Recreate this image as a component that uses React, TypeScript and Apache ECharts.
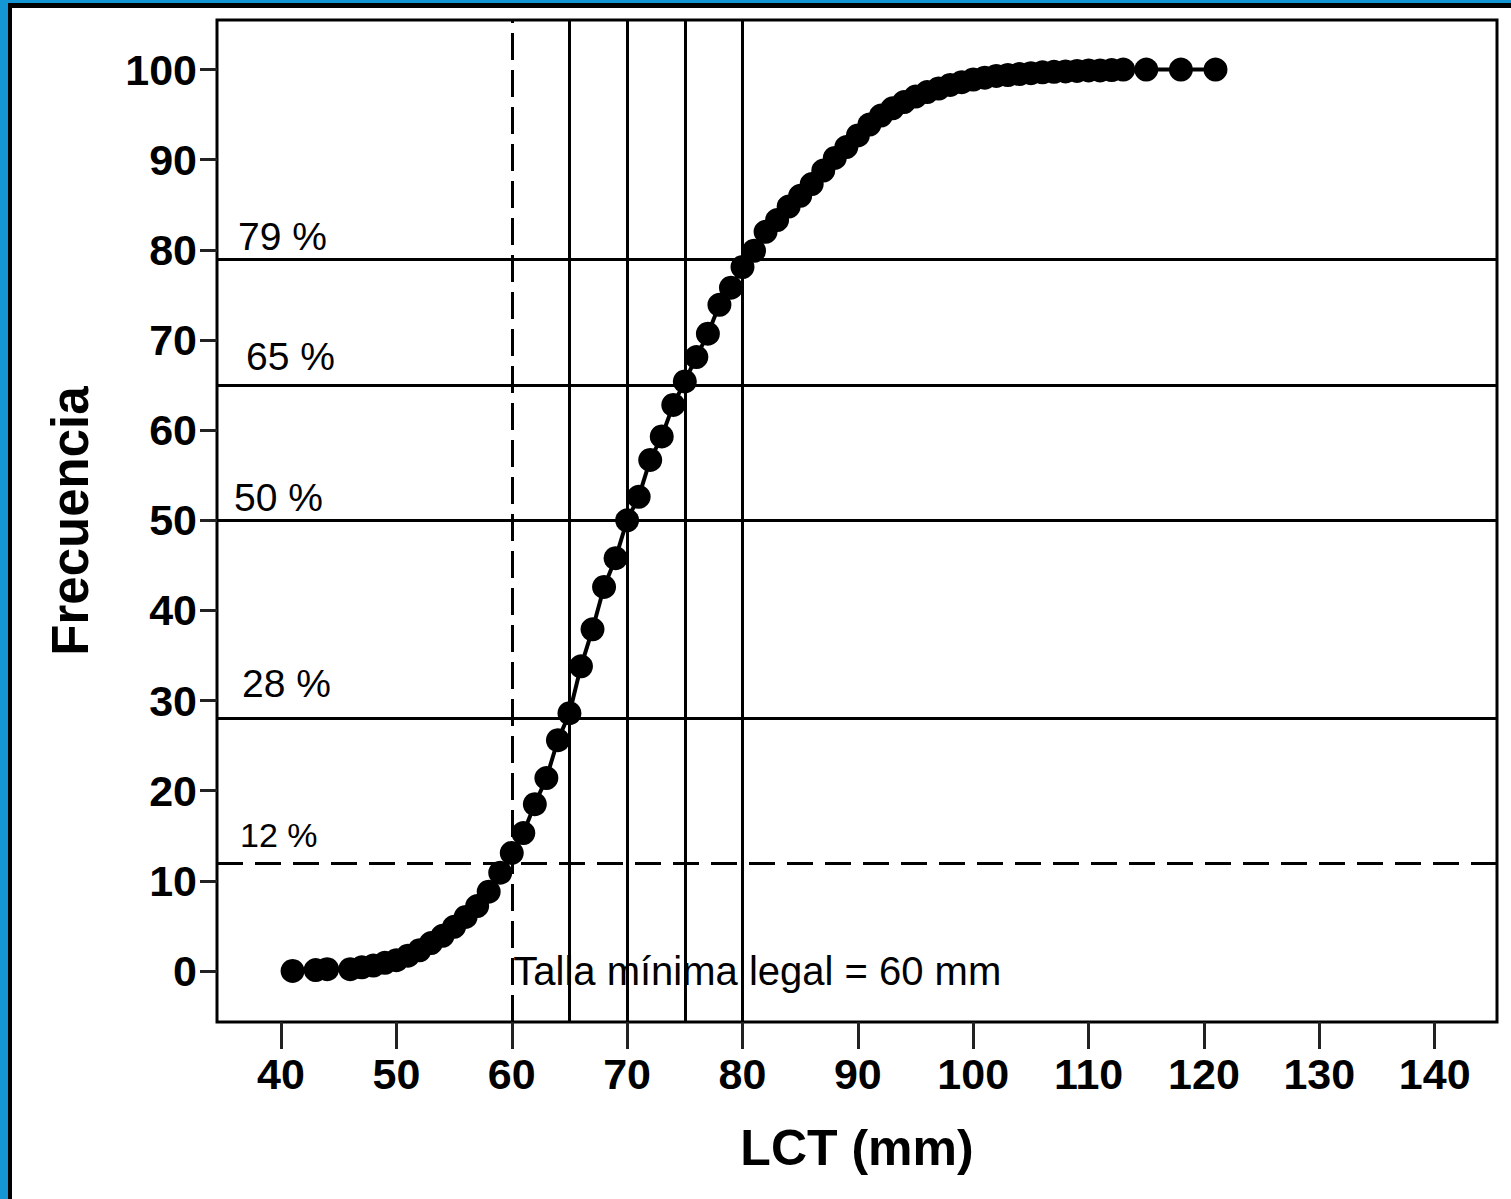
import React, { useEffect, useRef } from "react";
import * as echarts from "echarts";

// Cumulative length-frequency data: total length (mm) vs cumulative frequency (%)
const lengthsMm = [
  41, 43, 44, 46, 47, 48, 49, 50, 51, 52, 53, 54, 55, 56, 57, 58, 59, 60, 61, 62,
  63, 64, 65, 66, 67, 68, 69, 70, 71, 72, 73, 74, 75, 76, 77, 78, 79, 80, 81, 82,
  83, 84, 85, 86, 87, 88, 89, 90, 91, 92, 93, 94, 95, 96, 97, 98, 99, 100, 101, 102,
  103, 104, 105, 106, 107, 108, 109, 110, 111, 112, 113, 115, 118, 121,
];
const cumulativePct = [
  0, 0.1, 0.2, 0.2, 0.4, 0.6, 0.9, 1.2, 1.7, 2.3, 3.1, 3.9, 4.9, 6.0, 7.2, 8.8, 10.9, 13.1, 15.3, 18.5,
  21.4, 25.6, 28.6, 33.8, 37.9, 42.6, 45.8, 50.0, 52.6, 56.7, 59.3, 62.8, 65.4, 68.1, 70.7, 73.9, 75.8, 78.1, 79.9, 82.0,
  83.3, 84.8, 86.0, 87.3, 88.8, 90.2, 91.4, 92.7, 93.9, 94.9, 95.7, 96.4, 97.0, 97.5, 97.9, 98.3, 98.6, 98.9, 99.1, 99.3,
  99.4, 99.5, 99.6, 99.7, 99.75, 99.8, 99.85, 99.9, 99.9, 99.95, 100, 100, 100, 100,
];

// Reference levels (cumulative %) and their labels
const pctLevels = [79, 65, 50, 28, 12];
const pctLabels = ["79 %", "65 %", "50 %", "28 %", "12 %"];
const pctDashed = [false, false, false, false, true];

// Reference lengths (mm); 60 mm is the legal minimum size
const lengthMarks = [60, 65, 70, 75, 80];
const lengthDashed = [true, false, false, false, false];
const legalMinMm = 60;
const legalLabel = "Talla mínima legal = 60 mm";

// Axis ticks
const xTicks = [40, 50, 60, 70, 80, 90, 100, 110, 120, 130, 140];
const yTicks = [0, 10, 20, 30, 40, 50, 60, 70, 80, 90, 100];

const FONT = "'Liberation Sans', Arial, Helvetica, sans-serif";

export default function App() {
  const ref = useRef<HTMLDivElement>(null);

  useEffect(() => {
    if (!ref.current) return;
    const chart = echarts.init(ref.current, null, { renderer: "svg" });

    // label offsets [horizontal, vertical] from each line's left end
    const labelOffsets = [
      [21, 3],
      [29, 9],
      [17, 3],
      [25, 16],
      [23, 11],
    ];

    const hLines = pctLevels.map((v, i) => ({
      yAxis: v,
      lineStyle: {
        color: "#000",
        width: 3,
        type: pctDashed[i] ? [26, 12] : "solid",
      },
      label: {
        show: true,
        formatter: pctLabels[i],
        position: "insideStartTop",
        distance: labelOffsets[i],
        color: "#000",
        fontFamily: FONT,
        fontSize: i === 4 ? 34 : 39,
      },
    }));

    const vLines = lengthMarks.map((v, i) => ({
      xAxis: v,
      lineStyle: {
        color: "#000",
        width: 3,
        type: lengthDashed[i] ? [27, 10] : "solid",
      },
      label: { show: false },
    }));

    const points = lengthsMm.map((x, i) => [x, cumulativePct[i]]);

    chart.setOption({
      animation: false,
      backgroundColor: "#fff",
      textStyle: { fontFamily: FONT },
      grid: {
        left: 217,
        top: 20,
        right: 14,
        bottom: 177,
        show: true,
        borderColor: "#000",
        borderWidth: 3,
        backgroundColor: "#fff",
        containLabel: false,
      },
      xAxis: {
        type: "value",
        min: 34.45,
        max: 145.4,
        name: "LCT (mm)",
        nameLocation: "middle",
        nameGap: 101,
        nameTextStyle: {
          color: "#000",
          fontFamily: FONT,
          fontWeight: "bold",
          fontSize: 50,
        },
        axisLine: { show: false, onZero: false },
        splitLine: { show: false },
        axisTick: {
          show: true,
          customValues: xTicks,
          length: 27,
          lineStyle: { color: "#222", width: 3 },
        },
        axisLabel: {
          customValues: xTicks,
          margin: 30,
          color: "#000",
          fontFamily: FONT,
          fontWeight: "bold",
          fontSize: 43,
        },
      },
      yAxis: {
        type: "value",
        min: -5.66,
        max: 105.5,
        name: "Frecuencia",
        nameLocation: "middle",
        nameGap: 121,
        nameTextStyle: {
          color: "#000",
          fontFamily: FONT,
          fontWeight: "bold",
          fontSize: 51,
        },
        axisLine: { show: false, onZero: false },
        splitLine: { show: false },
        axisTick: {
          show: true,
          customValues: yTicks,
          length: 17,
          lineStyle: { color: "#222", width: 3 },
        },
        axisLabel: {
          customValues: yTicks,
          margin: 20,
          color: "#000",
          fontFamily: FONT,
          fontWeight: "bold",
          fontSize: 43,
        },
      },
      graphic: [
        // blue frame strips along the left and top edges
        { type: "rect", left: 0, top: 0, shape: { width: 8, height: 1199 }, style: { fill: "#1496d4" }, z: 100 },
        { type: "rect", left: 0, top: 0, shape: { width: 1511, height: 3 }, style: { fill: "#1496d4" }, z: 100 },
        { type: "rect", left: 8, top: 3, shape: { width: 4, height: 1196 }, style: { fill: "#000" }, z: 100 },
        { type: "rect", left: 8, top: 3, shape: { width: 1503, height: 5 }, style: { fill: "#000" }, z: 100 },
      ],
      series: [
        {
          type: "line",
          data: points,
          symbol: "circle",
          symbolSize: 24,
          showSymbol: true,
          itemStyle: { color: "#000" },
          lineStyle: { color: "#000", width: 4 },
          markLine: {
            silent: true,
            symbol: "none",
            animation: false,
            data: [...hLines, ...vLines],
          },
          markPoint: {
            silent: true,
            symbol: "rect",
            symbolSize: 1,
            itemStyle: { color: "rgba(0,0,0,0)" },
            data: [
              {
                coord: [legalMinMm, 0],
                label: {
                  show: true,
                  formatter: legalLabel,
                  position: "right",
                  distance: 1,
                  color: "#000",
                  fontFamily: FONT,
                  fontSize: 40,
                },
              },
            ],
          },
        },
      ],
    });

    return () => chart.dispose();
  }, []);

  return (
    <div
      ref={ref}
      style={{ position: "fixed", left: 0, top: 0, width: 1511, height: 1199, background: "#fff" }}
    />
  );
}
